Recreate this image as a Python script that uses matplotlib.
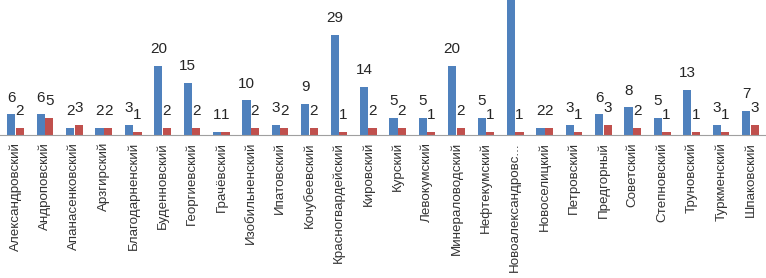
import matplotlib.pyplot as plt
import numpy as np

plt.rcParams["font.family"] = ["Liberation Sans", "DejaVu Sans"]

# Районы и значения двух рядов
districts = [
    "Александровский", "Андроповский", "Апанасенковский", "Арзгирский",
    "Благодарненский", "Буденновский", "Георгиевский", "Грачёвский",
    "Изобильненский", "Ипатовский", "Кочубеевский", "Красногвардейский",
    "Кировский", "Курский", "Левокумский", "Минераловодский",
    "Нефтекумский", "Новоалександровс...", "Новоселицкий", "Петровский",
    "Предгорный", "Советский", "Степновский", "Труновский",
    "Туркменский", "Шпаковский",
]
series_blue = [6, 6, 2, 2, 3, 20, 15, 1, 10, 3, 9, 29, 14, 5, 5, 20, 5, 45,
               2, 3, 6, 8, 5, 13, 3, 7]
series_red = [2, 5, 3, 2, 1, 2, 2, 1, 2, 2, 2, 1, 2, 2, 1, 2, 1, 1,
              2, 1, 3, 2, 1, 1, 1, 3]

fig = plt.figure(figsize=(7.66, 2.78), dpi=100)
ax = fig.add_axes([0.0, 0.514, 1.0, 0.486])

x = np.arange(len(districts))
w = 0.28
b1 = ax.bar(x - 0.145, series_blue, width=w, color="#4F81BD")
b2 = ax.bar(x + 0.145, series_red, width=w, color="#C0504D")

for bars in (b1, b2):
    for rect in bars:
        h = rect.get_height()
        ax.annotate(f"{h:g}", (rect.get_x() + rect.get_width() / 2, h),
                    xytext=(0, 7), textcoords="offset points",
                    ha="center", va="bottom", fontsize=11, color="#262626",
                    annotation_clip=True)

ax.set_xlim(-0.53, len(districts) - 0.47)
ax.set_ylim(0, 39)
ax.set_yticks([])
ax.set_xticks(x)
ax.set_xticklabels(districts, rotation=90, fontsize=9.6, color="#333333")
ax.tick_params(axis="x", length=0, pad=5)
for s in ("top", "right", "left"):
    ax.spines[s].set_visible(False)
ax.spines["bottom"].set_color("#A0A0A0")

fig.savefig("out.png", dpi=100)
